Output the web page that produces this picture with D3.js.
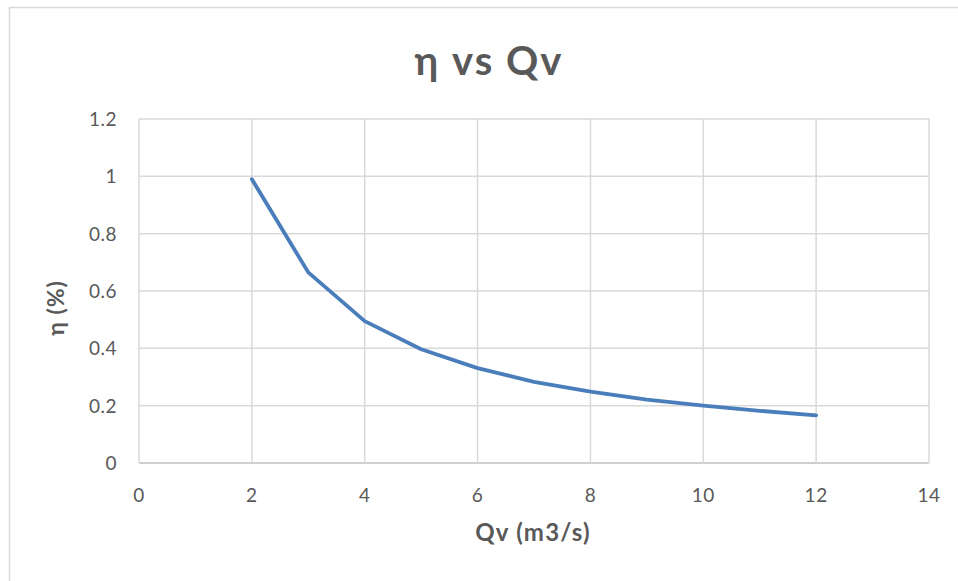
<!DOCTYPE html>
<html><head><meta charset="utf-8">
<script src="https://cdn.jsdelivr.net/npm/d3@7"></script>
<style>body{margin:0;background:#fff}svg{display:block}text{font-family:Lato,"Open Sans",sans-serif;fill:#595959}</style>
</head><body><svg id="c" width="958" height="581"></svg>
<script>
const qv = [2,3,4,5,6,7,8,9,10,11,12];
const eta = [0.99,0.665,0.495,0.397,0.331,0.283,0.249,0.221,0.2,0.182,0.166];
const xTicks = [0,2,4,6,8,10,12,14];
const yTicks = [0,0.2,0.4,0.6,0.8,1,1.2];
const title = "η vs Qv", xTitle = "Qv (m3/s)", yTitle = "η (%)";

const svg = d3.select("#c");
svg.append("path").attr("d","M9.5,600V7.5H958").attr("fill","none").attr("stroke","#d9d9d9").attr("stroke-width",1.5);
const x = d3.scaleLinear().domain([0,14]).range([139,929]);
const y = d3.scaleLinear().domain([0,1.2]).range([463,119]);

const g = svg.append("g");
g.selectAll(".hg").data(yTicks).join("line").attr("x1",x(0)).attr("x2",x(14))
 .attr("y1",d=>y(d)).attr("y2",d=>y(d)).attr("stroke",d=>d===0?"#bfbfbf":"#d9d9d9").attr("stroke-width",1.5);
g.selectAll(".vg").data(xTicks).join("line").attr("y1",y(0)).attr("y2",y(1.2))
 .attr("x1",d=>x(d)).attr("x2",d=>x(d)).attr("stroke","#d9d9d9").attr("stroke-width",1.5);

g.selectAll(".yl").data(yTicks).join("text").attr("x",117).attr("y",d=>y(d)+7)
 .attr("text-anchor","end").attr("font-size",19).attr("letter-spacing",0.5).text(d=>d3.format("~g")(d));
g.selectAll(".xl").data(xTicks).join("text").attr("x",d=>x(d)).attr("y",502)
 .attr("text-anchor","middle").attr("font-size",19).attr("letter-spacing",0.5).text(d=>d);

const line = d3.line().x((d,i)=>x(qv[i])).y(d=>y(d));
svg.append("path").datum(eta).attr("d",line).attr("fill","none").attr("stroke","#4a7ebb")
 .attr("stroke-width",3.8).attr("stroke-linejoin","round").attr("stroke-linecap","round");

svg.append("text").attr("x",489).attr("y",75).attr("text-anchor","middle").attr("font-size",40).attr("letter-spacing",2).attr("font-weight","bold").text(title);
svg.append("text").attr("x",533).attr("y",541).attr("text-anchor","middle").attr("font-size",24).attr("letter-spacing",1.2).attr("font-weight","bold").text(xTitle);
svg.append("text").attr("transform","translate(64,308) rotate(-90)").attr("text-anchor","middle").attr("font-size",23).attr("letter-spacing",1).attr("font-weight","bold").text(yTitle);
</script></body></html>
